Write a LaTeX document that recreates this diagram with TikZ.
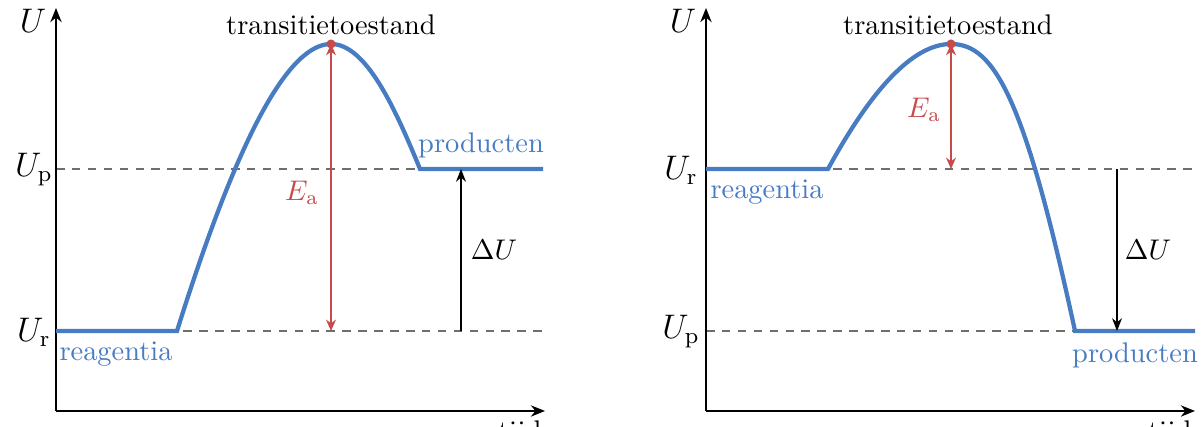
\documentclass[tikz,border=0pt]{standalone}
\usetikzlibrary{arrows.meta}
\definecolor{cblue}{RGB}{72,124,194}
\definecolor{cred}{RGB}{200,75,75}
\definecolor{cgray}{RGB}{110,110,110}
\begin{document}
\begin{tikzpicture}[x=0.352pt,y=-0.352pt,
  axis/.style={line width=0.5pt,-{Stealth[length=5pt,width=4pt]}},
  lvl/.style={cgray,line width=0.6pt,dash pattern=on 3pt off 2.6pt},
  curve/.style={cblue,line width=1.5pt},
  ea/.style={cred,line width=0.5pt,{Stealth[length=4pt,width=3.5pt]}-{Stealth[length=4pt,width=3.5pt]}},
  du/.style={black,line width=0.5pt,-{Stealth[length=4.5pt,width=3.5pt]}},
  lab/.style={inner sep=1pt},
  ax/.style={inner sep=1pt,font=\large},
  bl/.style={cblue,inner sep=1pt}]
\useasboundingbox (0,0) rectangle (1201,427);
\begin{scope}
\clip (0,0) rectangle (1201,427);
% ---------- left ----------
\coordinate (LO) at (56,411);
\coordinate (LT) at (56,8);
\coordinate (LX) at (545,411);
\coordinate (LUp) at (56,169);
\coordinate (LUpE) at (545,169);
\coordinate (LUr) at (56,331);
\coordinate (LUrE) at (545,331);
\coordinate (LA) at (177,331);
\coordinate (LP) at (331,44);
\coordinate (LB) at (420,169);
\coordinate (LE) at (543,169);
\coordinate (LEa) at (331,331);
\coordinate (LDa) at (461,331);
\coordinate (LDb) at (461,169);
\draw[lvl] (LUp) -- (LUpE);
\draw[lvl] (LUr) -- (LUrE);
\draw[axis] (LO) -- (LT);
\draw[axis] (LO) -- (LX);
\draw[curve] (LUr) -- (LA) .. controls (240,130) and (290,44) .. (LP) .. controls (366,44) and (395,108) .. (LB) -- (LE);
\draw[ea] (LEa) -- (LP);
\fill[cred] (LP) circle (1.6pt);
\draw[du] (LDa) -- (LDb);
\node[ax] (lU) at (33,21) {$U$};
\node[ax] (lUp) at (34,170) {$U_{\mathrm{p}}$};
\node[ax] (lUr) at (34,332) {$U_{\mathrm{r}}$};
\node[lab] (lts) at (331,25) {transitietoestand};
\node[bl] (lre) at (116,354) {reagentia};
\node[bl] (lpr) at (481,145) {producten};
\node[lab,cred] (lEa) at (302,193) {$E_{\mathrm{a}}$};
\node[lab] (lDU) at (494,250) {$\Delta U$};
\node[lab,anchor=north east] (ltijd) at (545,417) {tijd};
% ---------- right ----------
\coordinate (RO) at (706,411);
\coordinate (RT) at (706,8);
\coordinate (RX) at (1195,411);
\coordinate (RUr) at (706,169);
\coordinate (RUrE) at (1195,169);
\coordinate (RUp) at (706,331);
\coordinate (RUpE) at (1195,331);
\coordinate (RA) at (828,169);
\coordinate (RP) at (951,44);
\coordinate (RB) at (1075,331);
\coordinate (RE) at (1195,331);
\coordinate (REa) at (951,169);
\coordinate (RDa) at (1117,169);
\coordinate (RDb) at (1117,331);
\draw[lvl] (RUr) -- (RUrE);
\draw[lvl] (RUp) -- (RUpE);
\draw[axis] (RO) -- (RT);
\draw[axis] (RO) -- (RX);
\draw[curve] (RUr) -- (RA) .. controls (870,92) and (912,44) .. (RP) .. controls (995,44) and (1025,100) .. (RB) -- (RE);
\draw[ea] (REa) -- (RP);
\fill[cred] (RP) circle (1.6pt);
\draw[du] (RDa) -- (RDb);
\node[ax] (rU) at (683,21) {$U$};
\node[ax] (rUr) at (681,170) {$U_{\mathrm{r}}$};
\node[ax] (rUp) at (681,332) {$U_{\mathrm{p}}$};
\node[lab] (rts) at (948,25) {transitietoestand};
\node[bl] (rre) at (767,192) {reagentia};
\node[bl] (rpr) at (1135,355) {producten};
\node[lab,cred] (rEa) at (924,110) {$E_{\mathrm{a}}$};
\node[lab] (rDU) at (1148,250) {$\Delta U$};
\node[lab,anchor=north east] (rtijd) at (1195,417) {tijd};
\end{scope}
\end{tikzpicture}
\end{document}
